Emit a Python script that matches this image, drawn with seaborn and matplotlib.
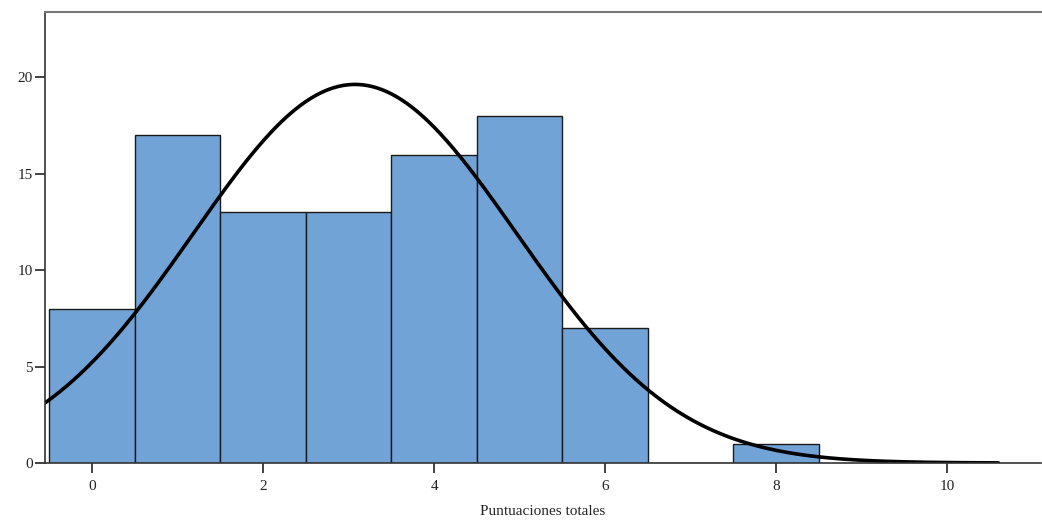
import numpy as np
import pandas as pd
import matplotlib
matplotlib.use("Agg")
import matplotlib.pyplot as plt
import seaborn as sns

# ── Data: score frequencies ──────────────────────────────────
scores = [0, 1, 2, 3, 4, 5, 6, 7, 8]
counts = [8, 17, 13, 13, 16, 18, 7, 0, 1]

x_ticks = [0, 2, 4, 6, 8, 10]
y_ticks = [0, 5, 10, 15, 20]

raw = np.repeat(scores, counts)
mean = raw.mean()
sd = raw.std(ddof=1)
n = len(raw)

sns.set_style("white")
plt.rcParams["font.family"] = ["Liberation Serif", "DejaVu Serif"]

fig = plt.figure(figsize=(10.42, 5.21), dpi=100)
ax = fig.add_axes([0.0432, 0.1113, 0.956, 0.866])

df = pd.DataFrame({"score": scores, "count": counts})
sns.histplot(data=df, x="score", weights="count", discrete=True,
             color="#72a3d6", alpha=1.0, edgecolor="#1a1a1a",
             linewidth=1.0, ax=ax)

# normal curve scaled to the histogram (bin width 1)
xs = np.linspace(-0.55, 10.6, 400)
ys = n / (sd * np.sqrt(2 * np.pi)) * np.exp(-0.5 * ((xs - mean) / sd) ** 2)
sns.lineplot(x=xs, y=ys, color="black", linewidth=2.6, ax=ax)

ax.set_xlim(-0.55, 11.1)
ax.set_ylim(0, 23.4)
ax.set_xticks(x_ticks)
ax.set_yticks(y_ticks)
ax.set_xticklabels([str(t) for t in x_ticks], fontsize=11)
ax.set_yticklabels([str(t) for t in y_ticks], fontsize=11)
ax.set_xlabel("Puntuaciones totales", fontsize=11, labelpad=9)
ax.set_ylabel("")

ax.tick_params(axis="both", direction="out", length=7, width=1.2,
               colors="#222222", pad=2, bottom=True, left=True)
ax.tick_params(axis="x", pad=5)
ax.spines["right"].set_visible(False)
ax.spines["top"].set_color("#777777")
ax.spines["top"].set_linewidth(1.5)
for s in ["left", "bottom"]:
    ax.spines[s].set_color("#333333")
    ax.spines[s].set_linewidth(1.2)

fig.savefig("out.png", dpi=100)
